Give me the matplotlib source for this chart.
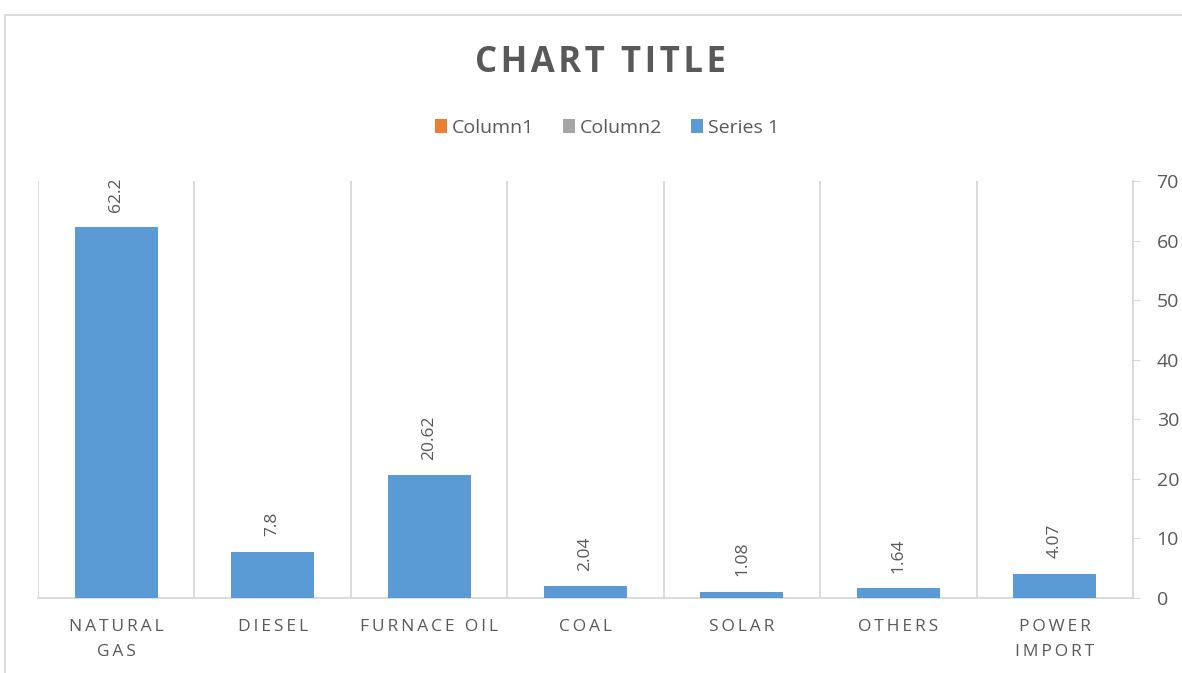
import matplotlib.pyplot as plt
from matplotlib.patches import Patch
from matplotlib.lines import Line2D
import numpy as np

# datos
categorias = ["NATURAL\nGAS", "DIESEL", "FURNACE OIL", "COAL", "SOLAR", "OTHERS", "POWER\nIMPORT"]
valores = [62.2, 7.8, 20.62, 2.04, 1.08, 1.64, 4.07]
etiquetas = ["62.2", "7.8", "20.62", "2.04", "1.08", "1.64", "4.07"]
series_leyenda = ["Column1", "Column2", "Series 1"]
colores_leyenda = ["#ED7D31", "#A5A5A5", "#5B9BD5"]
ticks_y = [0, 10, 20, 30, 40, 50, 60, 70]

gris_texto = "#595959"
gris_linea = "#D9D9D9"

plt.rcParams['font.family'] = ['Open Sans', 'DejaVu Sans']


def espaciado(texto, sep="\u2009"):
    # simula el espaciado entre letras de Excel
    return "\n".join(sep.join(linea) for linea in texto.split("\n"))


fig = plt.figure(figsize=(11.82, 6.73), dpi=100)
W, H = 1182, 673
ax = fig.add_axes([38 / W, 1 - 598 / H, (1133 - 38) / W, (598 - 181) / H])

x = np.arange(len(categorias))
barras = ax.bar(x, valores, width=0.53, color="#5B9BD5", zorder=3)
ax.bar_label(barras, labels=etiquetas, rotation=90, padding=11, color=gris_texto, fontsize=12.5)

ax.set_xlim(-0.5, len(categorias) - 0.5)
ax.set_ylim(0, 70)
ax.set_yticks(ticks_y)
ax.yaxis.tick_right()
ax.tick_params(axis="y", direction="out", length=5, color=gris_linea, labelcolor=gris_texto,
               labelsize=14, pad=12)

ax.set_xticks(x)
ax.set_xticklabels([espaciado(c) for c in categorias], color=gris_texto, fontsize=12.5,
                   linespacing=1.75)
ax.tick_params(axis="x", length=0, pad=15)
ax.set_xticks(np.arange(-0.5, len(categorias)), minor=True)
ax.tick_params(axis="x", which="minor", length=0)
ax.grid(True, axis="x", which="minor", color=gris_linea, linewidth=1.3, zorder=0)

for lado in ["left", "top"]:
    ax.spines[lado].set_visible(False)
ax.spines["right"].set_color(gris_linea)
ax.spines["bottom"].set_color(gris_linea)
ax.spines["right"].set_linewidth(1.3)
ax.spines["bottom"].set_linewidth(1.3)

# titulo y leyenda
fig.text(601 / W, 1 - 63 / H, espaciado("CHART TITLE", "\u200a"), ha="center", va="center",
         fontsize=25, fontweight="bold", color=gris_texto)

handles = [Patch(facecolor=c, label=s) for s, c in zip(series_leyenda, colores_leyenda)]
fig.legend(handles=handles, loc="center", bbox_to_anchor=(607 / W, 1 - 128 / H), ncol=3,
           frameon=False, fontsize=14, labelcolor=gris_texto, handlelength=0.6,
           handleheight=0.7, handletextpad=0.25, columnspacing=1.5)

# marco del grafico (recortado)
fig.add_artist(Line2D([5 / W, 5 / W], [0, 1 - 15 / H], color=gris_linea, linewidth=1.3))
fig.add_artist(Line2D([5 / W, 1], [1 - 15 / H, 1 - 15 / H], color=gris_linea, linewidth=1.3))

fig.savefig("out.png", dpi=100, facecolor="white")
